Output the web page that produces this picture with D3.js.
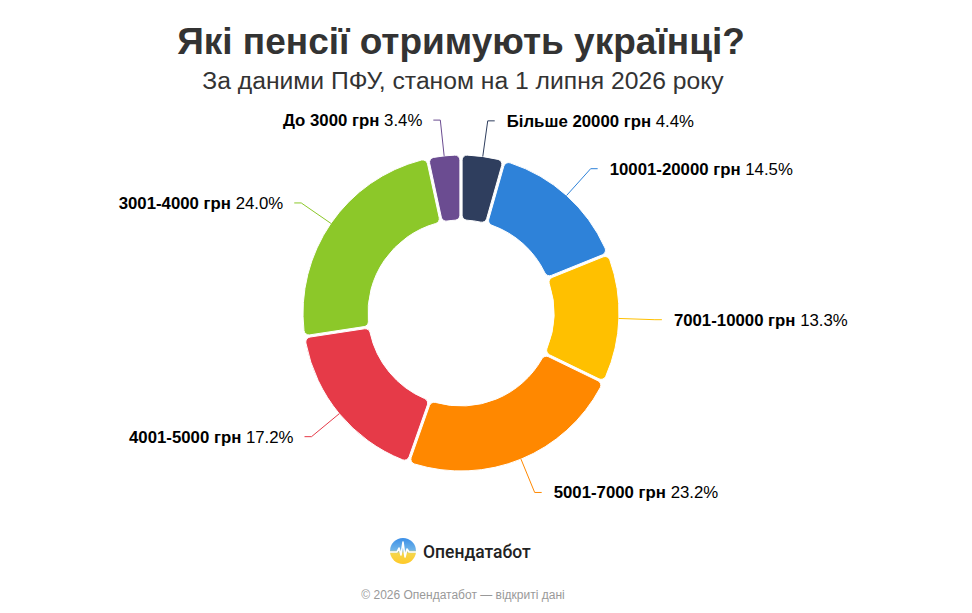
<!DOCTYPE html>
<html>
<head>
<meta charset="utf-8">
<script src="https://cdn.jsdelivr.net/npm/d3@7"></script>
<style>
  body { margin: 0; background: #fff; }
  svg { display: block; font-family: "Liberation Sans", Arial, sans-serif; }
</style>
</head>
<body>
<script>
// categories go clockwise from 12 o'clock
var categories = ["Більше 20000 грн", "10001-20000 грн", "7001-10000 грн", "5001-7000 грн",
                  "4001-5000 грн", "3001-4000 грн", "До 3000 грн"];
var shares = [4.4, 14.5, 13.3, 23.2, 17.2, 24.0, 3.4];
var colors = ["#2f3e5e", "#2e82d9", "#ffc000", "#ff8800", "#e63a48", "#8cc829", "#6b4c91"];

var width = 972, height = 613;
var cx = 461, cy = 313;
var outerR = 158, innerR = 93, labelR = 194;

var svg = d3.select("body").append("svg")
    .attr("width", width)
    .attr("height", height);

//title and subtitle
svg.append("text")
    .attr("x", 461).attr("y", 54)
    .attr("text-anchor", "middle")
    .style("font-size", "37px").style("font-weight", "bold")
    .style("fill", "#333")
    .text("Які пенсії отримують українці?");

svg.append("text")
    .attr("x", 463).attr("y", 89)
    .attr("text-anchor", "middle")
    .style("font-size", "24.7px")
    .style("fill", "#333")
    .text("За даними ПФУ, станом на 1 липня 2026 року");

var data = categories.map(function(c, i) {
    return {name: c, value: shares[i], color: colors[i]};
});

var pie = d3.pie().sort(null).value(function(d) { return d.value; });
var arcs = pie(data);

var arc = d3.arc()
    .innerRadius(innerR)
    .outerRadius(outerR)
    .cornerRadius(5)
    .padAngle(0.012);

var g = svg.append("g")
    .attr("transform", "translate(" + cx + "," + cy + ")");

g.selectAll("path.slice")
    .data(arcs)
    .enter().append("path")
    .attr("class", "slice")
    .attr("d", arc)
    .attr("fill", function(d) { return d.data.color; })
    .attr("stroke", "#fff")
    .attr("stroke-width", 1);

//connectors + labels
function pt(a, r) { return [Math.sin(a) * r, -Math.cos(a) * r]; }

arcs.forEach(function(d) {
    var mid = (d.startAngle + d.endAngle) / 2;
    var right = Math.sin(mid) > 0;
    var a = pt(mid, outerR);
    var b = pt(mid, labelR);
    var c = [b[0] + (right ? 7 : -7), b[1]];

    g.append("path")
        .attr("d", d3.line()([a, b, c]))
        .attr("fill", "none")
        .attr("stroke", d.data.color)
        .attr("stroke-width", 1);

    var t = g.append("text")
        .attr("x", c[0] + (right ? 12 : -11))
        .attr("y", c[1])
        .attr("dy", "0.35em")
        .attr("text-anchor", right ? "start" : "end")
        .style("font-size", "16.8px")
        .style("fill", "#000");
    t.append("tspan").style("font-weight", "bold").text(d.data.name);
    t.append("tspan").text(" " + d.data.value.toFixed(1) + "%");
});

//logo
var defs = svg.append("defs");
var grad = defs.append("linearGradient")
    .attr("id", "logoGrad")
    .attr("x1", 0).attr("y1", 0).attr("x2", 0).attr("y2", 1);
grad.append("stop").attr("offset", "0%").attr("stop-color", "#3b8fe8");
grad.append("stop").attr("offset", "45%").attr("stop-color", "#6fb3e8");
grad.append("stop").attr("offset", "60%").attr("stop-color", "#f6d64a");
grad.append("stop").attr("offset", "100%").attr("stop-color", "#ffc928");

var logo = svg.append("g").attr("transform", "translate(403,551)");
logo.append("circle").attr("r", 13).attr("fill", "url(#logoGrad)");
logo.append("path")
    .attr("d", "M-13,1 L-6,1 L-4,-3 L-2,4 L0,-9 L2,6 L4,-2 L6,1 L13,1")
    .attr("fill", "none")
    .attr("stroke", "#fff")
    .attr("stroke-width", 1.6)
    .attr("stroke-linejoin", "round");

svg.append("text")
    .attr("x", 423).attr("y", 558)
    .style("font-family", "Roboto, 'Liberation Sans', sans-serif")
    .style("font-size", "17.5px").style("font-weight", 500)
    .style("fill", "#222")
    .text("Опендатабот");

svg.append("text")
    .attr("x", 463).attr("y", 599)
    .attr("text-anchor", "middle")
    .style("font-size", "12px")
    .style("fill", "#999")
    .text("© 2026 Опендатабот — відкриті дані");
</script>
</body>
</html>
